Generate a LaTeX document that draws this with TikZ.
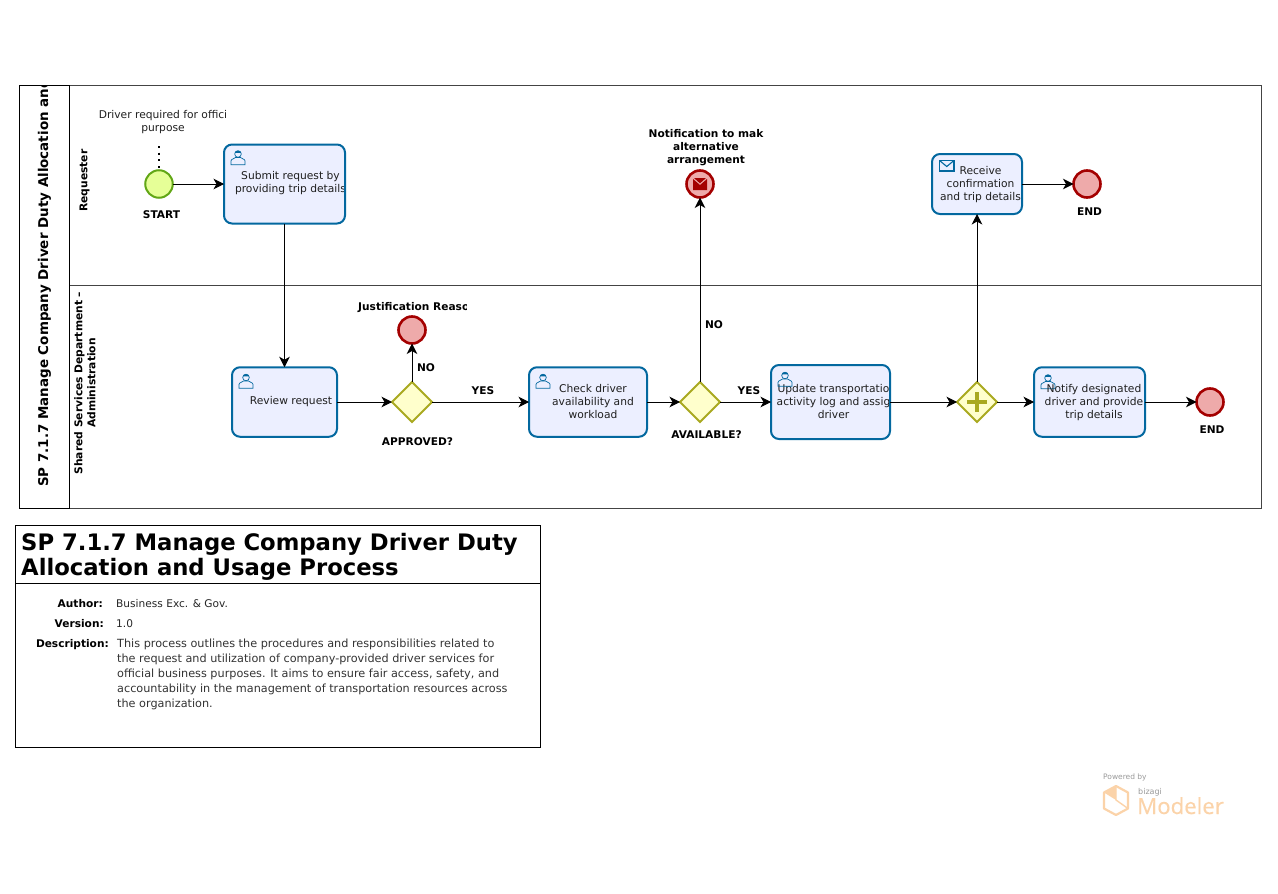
\documentclass[tikz,border=0pt]{standalone}
\usepackage{fontspec}
\setmainfont{DejaVu Sans}
\newfontfamily\logofont[FakeBold=0.5]{Open Sans}
\usetikzlibrary{arrows.meta,shapes.geometric}
\definecolor{taskfill}{HTML}{ECEFFF}
\definecolor{taskline}{HTML}{03689F}
\definecolor{startfill}{HTML}{E6FF97}
\definecolor{startline}{HTML}{62A716}
\definecolor{endfill}{HTML}{EEAAAA}
\definecolor{endline}{HTML}{A40000}
\definecolor{gatefill}{HTML}{FFFFCC}
\definecolor{gateline}{HTML}{A9A920}
\definecolor{lanegray}{HTML}{444444}
\definecolor{logoorange}{HTML}{FBD3A9}
\definecolor{logogray}{HTML}{999999}
\tikzset{
  x=1pt,y=-1pt,
  task/.style={draw=taskline,fill=taskfill,line width=2pt,rounded corners=8pt,inner sep=0pt,outer sep=0pt},
  startev/.style={circle,draw=startline,fill=startfill,line width=2pt,minimum size=27.5pt,inner sep=0pt,outer sep=0pt},
  endev/.style={circle,draw=endline,fill=endfill,line width=2.6pt,minimum size=27pt,inner sep=0pt,outer sep=0pt},
  gate/.style={diamond,aspect=1,draw=gateline,fill=gatefill,line width=1.8pt,minimum size=40pt,inner sep=0pt,outer sep=0pt},
  flow/.style={draw=black,line width=1pt,-{Stealth[length=10.5pt,width=10.5pt,inset=3pt]}},
  tasktext/.style={font=\fontsize{10.7}{13}\selectfont,text=black!88,align=center,inner sep=0pt},
  evlabel/.style={font=\fontsize{10.6}{13}\selectfont\bfseries,align=center,inner sep=0pt},
  infolabel/.style={font=\fontsize{10.6}{15}\selectfont\bfseries,inner sep=0pt,anchor=base east},
  infotext/.style={font=\fontsize{10.6}{15}\selectfont,text=black!85,inner sep=0pt,anchor=base west,align=left},
  desctext/.style={font=\fontsize{11.25}{15}\selectfont,text=black!80,inner sep=0pt,anchor=north west,align=left},
  lanelabel/.style={font=\fontsize{10.7}{13}\selectfont\bfseries,rotate=90,align=center,inner sep=0pt},
  iconline/.style={draw=taskline,line width=0.7pt},
  user/.pic={
    \draw[iconline] (-7,7.3) -- (-7,3.5) .. controls (-7,1) and (-3,1.5) .. (-2.5,0) -- (2.5,0) .. controls (3,1.5) and (7,1) .. (7,3.5) -- (7,7.3) -- cycle;
    \draw[iconline] (0,-3.5) circle (3.3);
    \fill[taskline] (-3.2,-4.6) arc (180:360:3.2 and 2.2) -- cycle;
  }
}
\begin{document}
\begin{tikzpicture}
\useasboundingbox (0,0) rectangle (1278,894);

% pool and lanes
\draw[lanegray,line width=0.9pt] (69.5,85.5) rectangle (1261.5,508.5);
\draw[black,line width=1pt] (19.5,85.5) rectangle (69.5,508.5);
\draw[lanegray,line width=0.9pt] (69.5,285.5) -- (1261.5,285.5);
\begin{scope}
  \clip (19.5,85.5) rectangle (69.5,508.5);
  \node[font=\fontsize{13.45}{15}\selectfont\bfseries,rotate=90,anchor=west,inner sep=0pt] (pooltitle) at (44.5,487) {SP 7.1.7 Manage Company Driver Duty Allocation and};
\end{scope}
\node[lanelabel] (lane1) at (84.5,180.5) {Requester};
\node[lanelabel] (lane2) at (85,383) {Shared Services Department --\\Administration};

% tasks
\node[task,minimum width=121pt,minimum height=79pt,path picture={\node[tasktext] at (6,-1) {Submit request by\\providing trip details};}] (submit) at (284.5,184) {};
\node[task,minimum width=105pt,minimum height=69.5pt] (review) at (284.5,402) {};
\node[task,minimum width=118pt,minimum height=69.5pt] (check) at (588,402) {};
\node[task,minimum width=119pt,minimum height=74pt,path picture={\node[tasktext] at (3,0) {Update transportatio\\activity log and assig\\driver};}] (update) at (830.5,402) {};
\node[task,minimum width=111pt,minimum height=69.5pt] (notify) at (1089.5,402) {};
\node[task,minimum width=90pt,minimum height=60pt,path picture={\node[tasktext] at (3.5,0.5) {Receive\\confirmation\\and trip details};}] (receive) at (977,184) {};

% icons
\pic at (238,157.5) {user};
\pic at (246,381) {user};
\pic at (543,381) {user};
\pic at (785,379) {user};
\pic at (1048,381.5) {user};
\draw[iconline,line width=1.3pt] (939.5,160.5) rectangle (954,171);
\draw[iconline,line width=1.1pt] (939.5,160.5) -- (946.75,166.5) -- (954,160.5);

\node[tasktext] (reviewtext) at (291,402) {Review request};
\node[tasktext] (checktext) at (593,402) {Check driver\\availability and\\workload};
\node[tasktext] (notifytext) at (1094,402.5) {Notify designated\\driver and provide\\trip details};

% events
\node[startev] (start) at (159,184) {};
\node[endev] (endreason) at (412,330) {};
\node[endev] (endnotif) at (700,184) {};
\node[endev] (endreceive) at (1087,184) {};
\node[endev] (endnotify) at (1210,402) {};
\fill[endline] (693,179) -- (700,185) -- (707,179) -- (707,190) -- (693,190) -- cycle;
\fill[endline] (694,178) -- (706,178) -- (700,183.3) -- cycle;

% gateways
\node[gate] (approved) at (412,402) {};
\node[gate] (available) at (700,402) {};
\node[gate] (parallel) at (977,402) {};
\fill[gateline] (974.7,392) rectangle (979.3,412);
\fill[gateline] (967,399.7) rectangle (987,404.3);

% annotation
\node[tasktext] (anno) at (163,122) {Driver required for offici\\purpose};
\coordinate (annoend) at (159,146);
\draw[black,line width=1.6pt,dash pattern=on 2pt off 4.7pt] (annoend) -- (start.north);

% connectors
\draw[flow] (start) -- (submit);
\draw[flow] (submit.south) -- (review.north);
\draw[flow] (review) -- (approved);
\draw[flow] (approved) -- (endreason);
\draw[flow] (approved) -- (check);
\draw[flow] (check) -- (available);
\draw[flow] (available) -- (endnotif);
\draw[flow] (available) -- (update);
\draw[flow] (update) -- (parallel);
\draw[flow] (parallel) -- (receive);
\draw[flow] (parallel) -- (notify);
\draw[flow] (notify) -- (endnotify);
\draw[flow] (receive) -- (endreceive);

% labels
\node[evlabel] (lstart) at (161.5,214.5) {START};
\begin{scope}
  \clip (350,295) rectangle (466,320);
  \node[evlabel,anchor=west] (lreason) at (358,308) {Justification Reaso};
\end{scope}
\node[evlabel] (lnotif) at (706,147.5) {Notification to mak\\alternative\\arrangement};
\node[evlabel] (lend1) at (1089.5,211.5) {END};
\node[evlabel] (lend2) at (1212,429.5) {END};
\node[evlabel] (lapproved) at (417.5,441.5) {APPROVED?};
\node[evlabel] (lavailable) at (706.5,434.5) {AVAILABLE?};
\node[evlabel] (lno1) at (426,367.5) {NO};
\node[evlabel] (lyes1) at (483,390.5) {YES};
\node[evlabel] (lno2) at (714,324.5) {NO};
\node[evlabel] (lyes2) at (749,390.5) {YES};

% info box
\draw[black,line width=1pt] (15.5,525.5) rectangle (540.5,747.5);
\draw[black,line width=1pt] (15.5,583.5) -- (540.5,583.5);
\node[font=\fontsize{22.7}{25}\selectfont\bfseries,align=left,anchor=north west,inner sep=0pt] (boxtitle) at (21,533) {SP 7.1.7 Manage Company Driver Duty\\Allocation and Usage Process};
\node[infolabel] (la) at (103,607) {Author:};
\node[infolabel] (lv) at (104,627) {Version:};
\node[infolabel] (ld) at (109,647) {Description:};
\node[infotext] (ta) at (116,607) {Business Exc. \& Gov.};
\node[infotext] (tv) at (116,627) {1.0};
\node[desctext] (td) at (117,639) {This process outlines the procedures and responsibilities related to\\the request and utilization of company-provided driver services for\\official business purposes. It aims to ensure fair access, safety, and\\accountability in the management of transportation resources across\\the organization.};

% logo
\node[font=\fontsize{7.5}{8}\selectfont,text=logogray,inner sep=0pt,anchor=base west] (powered) at (1103,779) {Powered by};
\node[font=\fontsize{8}{9}\selectfont,text=logogray,inner sep=0pt,anchor=base west] (bizagi) at (1138,794) {bizagi};
\node[font=\logofont\fontsize{22.2}{26}\selectfont,text=logoorange,inner sep=0pt,anchor=base west] (modeler) at (1137,814) {Modeler};
\draw[logoorange,line width=2.2pt,line join=round] (1116,786) -- (1128,792.5) -- (1128,808.5) -- (1116,815) -- (1104,808.5) -- (1104,792.5) -- cycle;
\fill[logoorange] (1116,786) -- (1104,792.5) -- (1116,800) -- cycle;
\draw[logoorange,line width=1.4pt] (1116,786) -- (1116,800) -- (1128,808.5);
\end{tikzpicture}
\end{document}
